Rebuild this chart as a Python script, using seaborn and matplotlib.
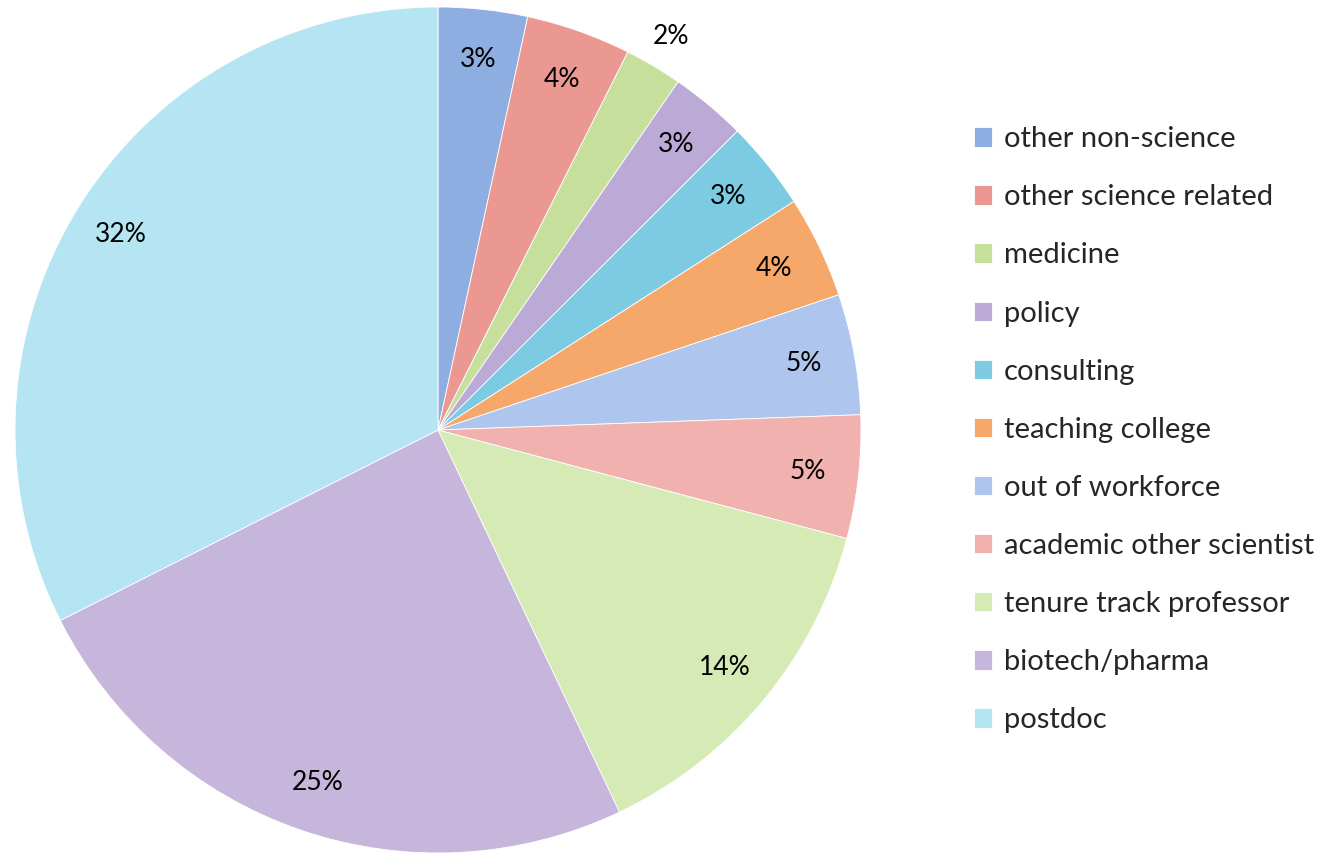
import matplotlib
matplotlib.use("Agg")
import matplotlib.pyplot as plt
import numpy as np
import seaborn as sns

sns.set_theme(style="white")
plt.rcParams["font.family"] = ["Lato", "DejaVu Sans"]

# career outcomes, share in percent (clockwise from 12 o'clock)
categories = [
    "other non-science", "other science related", "medicine", "policy",
    "consulting", "teaching college", "out of workforce",
    "academic other scientist", "tenure track professor", "biotech/pharma",
    "postdoc",
]
shares = [3.4, 4.0, 2.2, 2.9, 3.4, 3.9, 4.6, 4.7, 13.8, 24.6, 32.4]
colors = [
    "#8eaee2", "#ec9892", "#c6df9c", "#bcaad6", "#7dcbe2", "#f6a86a",
    "#aec6ee", "#f1b1af", "#d6eab5", "#c6b6db", "#b5e5f2",
]

fig = plt.figure(figsize=(13.23, 8.56), dpi=100)
ax = fig.add_axes([15 / 1323, 3 / 856, 846 / 1323, 846 / 856])

wedges, texts, autotexts = ax.pie(
    shares, colors=colors, startangle=90, counterclock=False,
    autopct="%.0f%%", pctdistance=0.88, radius=1.0,
    wedgeprops=dict(linewidth=0.6, edgecolor="white"),
    textprops=dict(fontsize=19, color="black"),
)

# the small "medicine" label sits just outside the rim
w = wedges[2]
mid = np.deg2rad((w.theta1 + w.theta2) / 2)
autotexts[2].set_position((1.08 * np.cos(mid), 1.08 * np.sin(mid)))

ax.set_aspect("equal")
ax.set_xlim(-1, 1)
ax.set_ylim(-1, 1)
ax.axis("off")

leg = fig.legend(
    wedges, categories, loc="center left", bbox_to_anchor=(0.716, 0.498),
    frameon=False, fontsize=21, handlelength=0.65, handleheight=0.65,
    handletextpad=0.4, labelspacing=1.1,
)

fig.savefig("out.png", dpi=100)
